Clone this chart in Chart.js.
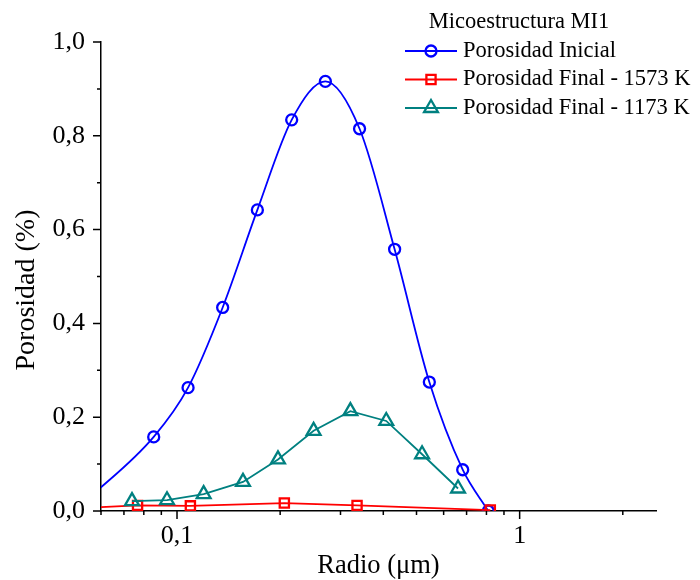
<!DOCTYPE html>
<html>
<head>
<meta charset="utf-8">
<script src="https://cdn.jsdelivr.net/npm/chart.js"></script>
<style>
  body { margin: 0; background: #fff; }
  canvas { display: block; }
</style>
</head>
<body>
<canvas id="grafico" width="700" height="580"></canvas>
<script>
// Radio (µm) y porosidad (%) de cada serie
const radioInicial = [0.0539, 0.0855, 0.1077, 0.1359, 0.1716, 0.2161, 0.271, 0.341, 0.4316, 0.545, 0.682, 0.81];
const porosidadInicial = [0.02, 0.158, 0.263, 0.434, 0.642, 0.834, 0.916, 0.815, 0.558, 0.275, 0.088, 0.0];

const radio1573 = [0.052, 0.0767, 0.1094, 0.2057, 0.3353, 0.821];
const porosidad1573 = [0.006, 0.012, 0.011, 0.017, 0.012, 0.002];

const radio1173 = [0.0739, 0.0935, 0.1196, 0.1558, 0.1971, 0.2504, 0.3206, 0.408, 0.519, 0.661];
const porosidad1173 = [0.021, 0.023, 0.036, 0.062, 0.110, 0.171, 0.213, 0.192, 0.121, 0.048];

const etiquetas = ['Porosidad Inicial', 'Porosidad Final - 1573 K', 'Porosidad Final - 1173 K'];
const tituloLeyenda = 'Micoestructura MI1';
const tituloY = 'Porosidad (%)';

const FUENTE = '"Liberation Serif", "Times New Roman", serif';

const puntos = (xs, ys) => xs.map((x, i) => ({ x: x, y: ys[i] }));
const coma = v => String(v).replace('.', ',');

// marcas principales y secundarias de los ejes + título vertical
const marcasEjes = {
  id: 'marcasEjes',
  afterDraw(chart) {
    const ctx = chart.ctx;
    const xs = chart.scales.x, ys = chart.scales.y;
    ctx.save();
    ctx.strokeStyle = '#000';
    ctx.lineWidth = 1.5;
    ctx.beginPath();
    for (let i = 0; i <= 10; i++) {
      const py = ys.getPixelForValue(i / 10);
      const len = i % 2 === 0 ? 8 : 4;
      ctx.moveTo(xs.left, py);
      ctx.lineTo(xs.left - len, py);
    }
    xs.ticks.forEach(t => {
      const e = Math.floor(Math.log10(t.value) + 1e-9);
      const m = t.value / Math.pow(10, e);
      if (Math.abs(m - Math.round(m)) > 1e-6) return;
      const px = xs.getPixelForValue(t.value);
      const len = Math.round(m) === 1 ? 8 : 4;
      ctx.moveTo(px, ys.bottom);
      ctx.lineTo(px, ys.bottom + len);
    });
    ctx.stroke();

    ctx.translate(27, 290);
    ctx.rotate(-Math.PI / 2);
    ctx.fillStyle = '#000';
    ctx.font = '28px ' + FUENTE;
    ctx.textAlign = 'center';
    ctx.textBaseline = 'middle';
    ctx.fillText(tituloY, 0, 0);
    ctx.restore();
  }
};

// leyenda con línea y marcador
const leyenda = {
  id: 'leyenda',
  afterDraw(chart) {
    const ctx = chart.ctx;
    ctx.save();
    ctx.fillStyle = '#000';
    ctx.font = '22.5px ' + FUENTE;
    ctx.textAlign = 'center';
    ctx.textBaseline = 'middle';
    ctx.fillText(tituloLeyenda, 519, 22);
    chart.data.datasets.forEach((ds, i) => {
      const y = 51 + i * 28.5;
      ctx.strokeStyle = ds.borderColor;
      ctx.lineWidth = 1.8;
      ctx.beginPath();
      ctx.moveTo(405, y);
      ctx.lineTo(457, y);
      ctx.stroke();
      ctx.fillStyle = 'rgba(0,0,0,0)';
      ctx.strokeStyle = ds.pointBorderColor;
      ctx.lineWidth = ds.pointBorderWidth;
      Chart.helpers.drawPoint(ctx, { pointStyle: ds.pointStyle, radius: ds.pointRadius, rotation: 0, borderWidth: ds.pointBorderWidth }, 431, y);
      ctx.fillStyle = '#000';
      ctx.textAlign = 'left';
      ctx.fillText(ds.label, 463, y);
    });
    ctx.restore();
  }
};

const serie = (label, data, color, estilo, radio, orden, extra) => Object.assign({
  label: label,
  data: data,
  borderColor: color,
  borderWidth: 1.8,
  pointStyle: estilo,
  pointRadius: radio,
  pointBorderColor: color,
  pointBorderWidth: 2.3,
  pointBackgroundColor: 'rgba(0,0,0,0)',
  fill: false,
  order: orden
}, extra || {});

new Chart(document.getElementById('grafico'), {
  type: 'line',
  data: {
    datasets: [
      serie(etiquetas[0], puntos(radioInicial, porosidadInicial), '#0000ff', 'circle', 5.5, 3, { cubicInterpolationMode: 'monotone' }),
      serie(etiquetas[1], puntos(radio1573, porosidad1573), '#ff0000', 'rect', 6.5, 2, { tension: 0 }),
      serie(etiquetas[2], puntos(radio1173, porosidad1173), '#008080', 'triangle', 8, 1, { tension: 0 })
    ]
  },
  options: {
    responsive: false,
    animation: false,
    layout: { padding: { left: 0, top: 42, right: 44, bottom: 0 } },
    plugins: {
      legend: { display: false },
      tooltip: { enabled: false }
    },
    scales: {
      x: {
        type: 'logarithmic',
        min: 0.06,
        max: 2.5,
        grid: { display: false, drawTicks: false },
        border: { display: true, color: '#000', width: 1.5 },
        ticks: {
          autoSkip: false,
          maxRotation: 0,
          padding: 10,
          color: '#000',
          font: { family: FUENTE, size: 26 },
          callback: v => {
            const l = Math.log10(v);
            return Math.abs(l - Math.round(l)) < 1e-9 ? coma(v) : '';
          }
        },
        title: {
          display: true,
          text: 'Radio (μm)',
          color: '#000',
          font: { family: FUENTE, size: 26.5 },
          padding: { top: 0, bottom: -2 }
        },
        afterFit: s => { s.height = 69; }
      },
      y: {
        min: 0,
        max: 1,
        grid: { display: false, drawTicks: false },
        border: { display: true, color: '#000', width: 1.5 },
        ticks: {
          stepSize: 0.2,
          padding: 16,
          color: '#000',
          font: { family: FUENTE, size: 26 },
          callback: v => v.toFixed(1).replace('.', ',')
        },
        afterFit: s => { s.width = 101; }
      }
    }
  },
  plugins: [marcasEjes, leyenda]
});
</script>
</body>
</html>
